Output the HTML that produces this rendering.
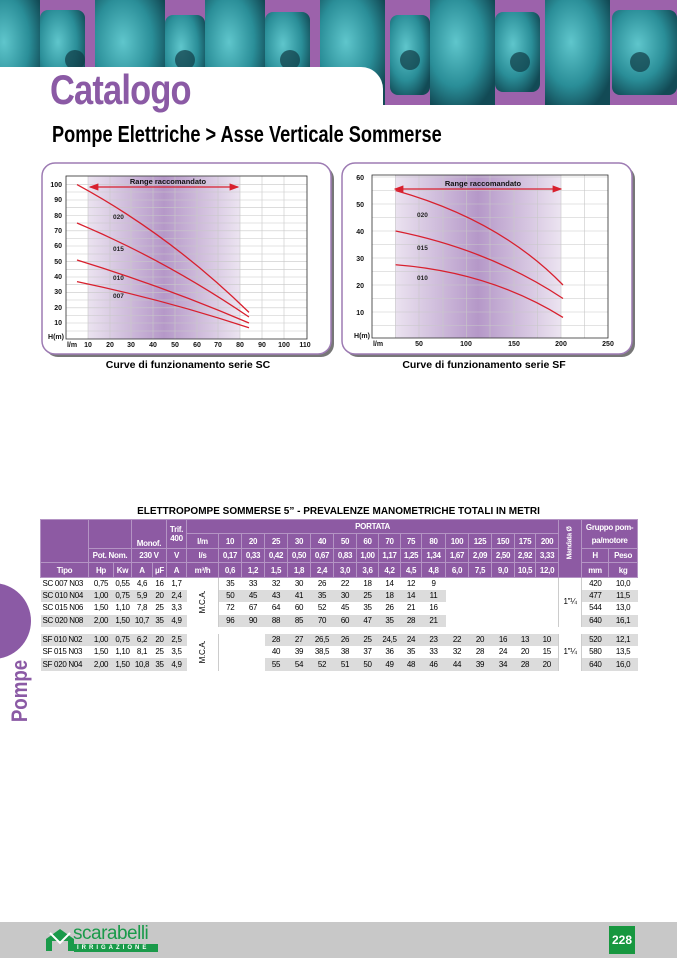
<!DOCTYPE html>
<html><head><meta charset="utf-8">
<style>
*{margin:0;padding:0;box-sizing:border-box}
body{width:677px;height:958px;position:relative;background:#fff;font-family:"Liberation Sans Narrow","Liberation Sans",sans-serif;overflow:hidden}
.abs{position:absolute}
#banner{left:0;top:0;width:677px;height:105px;background:#9c62ab;overflow:hidden}
table{border-collapse:collapse;table-layout:fixed;position:absolute;left:40px;top:519px;width:597px;font-size:8px;letter-spacing:-0.3px;text-align:center}
td{padding:0;white-space:nowrap;overflow:hidden}
thead td{background:#8d5aa3;color:#fff;font-weight:bold;border:1px solid #b494c4}
tbody td{height:12.3px;line-height:12px}
.g td.s{background:#dcdcdc}
.tl{text-align:left;padding-left:2px}
</style></head><body>
<div id="banner" class="abs">
<svg width="677" height="105" style="position:absolute;left:0;top:0">
<defs><radialGradient id="tq" cx="40%" cy="40%" r="70%"><stop offset="0" stop-color="#5fc6cc"/><stop offset="0.6" stop-color="#2a8e98"/><stop offset="1" stop-color="#124a55"/></radialGradient></defs>
<g fill="url(#tq)">
<rect x="-20" y="0" width="60" height="105"/>
<rect x="40" y="10" width="45" height="80" rx="8"/>
<rect x="95" y="0" width="70" height="105"/>
<rect x="165" y="15" width="40" height="80" rx="8"/>
<rect x="205" y="0" width="60" height="105"/>
<rect x="265" y="12" width="45" height="80" rx="8"/>
<rect x="320" y="0" width="65" height="105"/>
<rect x="390" y="15" width="40" height="80" rx="8"/>
<rect x="430" y="0" width="65" height="105"/>
<rect x="495" y="12" width="45" height="80" rx="8"/>
<rect x="545" y="0" width="65" height="105"/>
<rect x="612" y="10" width="65" height="85" rx="8"/>
</g>
<g fill="#0f3b45" opacity="0.7">
<circle cx="75" cy="60" r="10"/><circle cx="185" cy="60" r="10"/><circle cx="290" cy="60" r="10"/><circle cx="410" cy="60" r="10"/><circle cx="520" cy="62" r="10"/><circle cx="640" cy="62" r="10"/>
</g>
</svg>
</div>
<div class="abs" style="left:0;top:67px;width:383px;height:45px;background:#fff;border-top-right-radius:22px"></div>
<div class="abs" style="left:50px;top:66px;font-size:42px;font-weight:bold;color:#8b5aa5;letter-spacing:-1px;transform:scaleX(0.82);transform-origin:0 0;white-space:nowrap">Catalogo</div>
<div class="abs" style="left:52px;top:121px;font-size:23px;font-weight:bold;color:#000;transform:scaleX(0.79);transform-origin:0 0;white-space:nowrap">Pompe Elettriche &gt; Asse Verticale Sommerse</div>

<svg class="abs" style="left:0;top:0" width="677" height="400" font-family="Liberation Sans Narrow, Liberation Sans, sans-serif">
<defs>
<linearGradient id="band" x1="0" x2="1" y1="0" y2="0"><stop offset="0" stop-color="#ebe3f0"/><stop offset="0.5" stop-color="#b598c8"/><stop offset="1" stop-color="#ece4f1"/></linearGradient>
<marker id="ah" markerWidth="8" markerHeight="6" refX="7" refY="3" orient="auto-start-reverse"><path d="M0,0L8,3L0,6z" fill="#d8202e"/></marker>
</defs>
<rect x="45" y="166" width="289" height="191" rx="13" fill="#777"/>
<rect x="42" y="163" width="289" height="191" rx="13" fill="#fff" stroke="#9d7bb3" stroke-width="1.5"/>
<rect x="88" y="176" width="152" height="163" fill="url(#band)"/>
<g stroke="#c8c8c8" stroke-width="0.6">
<path d="M66,176V339M88,176V339M110,176V339M131,176V339M153,176V339M175,176V339M197,176V339M218,176V339M240,176V339M262,176V339M284,176V339M307,176V339"/>
<path d="M66,176H307M66,184.6H307M66,192H307M66,200H307M66,207.7H307M66,215.5H307M66,223H307M66,230.8H307M66,238.5H307M66,246H307M66,254H307M66,261.6H307M66,269.3H307M66,277H307M66,284.7H307M66,292.4H307M66,300H307M66,307.8H307M66,315.5H307M66,323H307M66,331H307"/>
</g>
<rect x="66" y="176" width="241" height="163" fill="none" stroke="#333" stroke-width="0.8"/>
<g font-size="7" font-weight="bold" fill="#111" text-anchor="end">
<text x="62" y="187">100</text><text x="62" y="202">90</text><text x="62" y="218">80</text><text x="62" y="233">70</text><text x="62" y="248">60</text><text x="62" y="264">50</text><text x="62" y="279">40</text><text x="62" y="294">30</text><text x="62" y="310">20</text><text x="62" y="325">10</text><text x="64" y="339">H(m)</text>
</g>
<g font-size="7" font-weight="bold" fill="#111" text-anchor="middle">
<text x="72" y="347">l/m</text><text x="88" y="347">10</text><text x="110" y="347">20</text><text x="131" y="347">30</text><text x="153" y="347">40</text><text x="175" y="347">50</text><text x="197" y="347">60</text><text x="218" y="347">70</text><text x="240" y="347">80</text><text x="262" y="347">90</text><text x="284" y="347">100</text><text x="305" y="347">110</text>
<text x="168" y="184" font-size="7.5">Range raccomandato</text>
</g>
<line x1="90" y1="187" x2="238" y2="187" stroke="#d8202e" stroke-width="1.2" marker-start="url(#ah)" marker-end="url(#ah)"/>
<g stroke="#d8202e" stroke-width="1.3" fill="none">
<path d="M77,184.6Q170,235 249,312.4"/>
<path d="M77,223Q165,260 249,317"/>
<path d="M77,260Q165,287 249,323"/>
<path d="M77,281.6Q165,300 249,327.8"/>
</g>
<g font-size="6.5" font-weight="bold" fill="#222"><text x="113" y="219">020</text><text x="113" y="251">015</text><text x="113" y="280">010</text><text x="113" y="298">007</text></g>
<text x="188" y="368" font-size="10.5" font-weight="bold" text-anchor="middle" font-family="Liberation Sans, sans-serif">Curve di funzionamento serie SC</text>

<rect x="345" y="166" width="290" height="191" rx="13" fill="#777"/>
<rect x="342" y="163" width="290" height="191" rx="13" fill="#fff" stroke="#9d7bb3" stroke-width="1.5"/>
<rect x="395" y="175" width="166" height="163" fill="url(#band)"/>
<g stroke="#c8c8c8" stroke-width="0.6">
<path d="M372,175V338M395.6,175V338M419,175V338M443,175V338M466.5,175V338M490,175V338M514,175V338M537.5,175V338M561,175V338M584.6,175V338M608,175V338"/>
<path d="M372,177H608M372,190.5H608M372,204H608M372,217.5H608M372,231H608M372,244.5H608M372,258H608M372,271.5H608M372,285H608M372,298.5H608M372,312H608M372,325.5H608"/>
</g>
<rect x="372" y="175" width="236" height="163" fill="none" stroke="#333" stroke-width="0.8"/>
<g font-size="7" font-weight="bold" fill="#111" text-anchor="end">
<text x="364" y="180">60</text><text x="364" y="207">50</text><text x="364" y="234">40</text><text x="364" y="261">30</text><text x="364" y="288">20</text><text x="364" y="315">10</text><text x="370" y="338">H(m)</text>
</g>
<g font-size="7" font-weight="bold" fill="#111" text-anchor="middle">
<text x="378" y="346">l/m</text><text x="419" y="346">50</text><text x="466" y="346">100</text><text x="514" y="346">150</text><text x="561" y="346">200</text><text x="608" y="346">250</text>
<text x="483" y="186" font-size="7.5">Range raccomandato</text>
</g>
<line x1="395" y1="189" x2="561" y2="189" stroke="#d8202e" stroke-width="1.2" marker-start="url(#ah)" marker-end="url(#ah)"/>
<g stroke="#d8202e" stroke-width="1.3" fill="none">
<path d="M395.6,190.5Q500,220 563,285"/>
<path d="M395.6,231Q490,250 563,298.5"/>
<path d="M395.6,264.75Q490,272 563,317.4"/>
</g>
<g font-size="6.5" font-weight="bold" fill="#222"><text x="417" y="217">020</text><text x="417" y="250">015</text><text x="417" y="280">010</text></g>
<text x="484" y="368" font-size="10.5" font-weight="bold" text-anchor="middle" font-family="Liberation Sans, sans-serif">Curve di funzionamento serie SF</text>
</svg>

<div class="abs" style="left:0;top:506px;width:677px;text-align:center;font-family:'Liberation Sans',sans-serif;font-weight:bold;font-size:10px">ELETTROPOMPE SOMMERSE 5” - PREVALENZE MANOMETRICHE TOTALI IN METRI</div>

<table>
<colgroup>
<col style="width:48px"><col style="width:25px"><col style="width:18px"><col style="width:21px"><col style="width:14px"><col style="width:20px"><col style="width:32px">
<col style="width:23px"><col style="width:23px"><col style="width:23px"><col style="width:23px"><col style="width:23px"><col style="width:23px">
<col style="width:22px"><col style="width:22px"><col style="width:21px"><col style="width:24px"><col style="width:23px"><col style="width:23px"><col style="width:23px"><col style="width:21px"><col style="width:23px">
<col style="width:23px"><col style="width:27px"><col style="width:29px">
</colgroup>
<thead>
<tr style="height:14px"><td rowspan="3"></td><td rowspan="2" colspan="2"></td><td rowspan="2" colspan="2" style="vertical-align:bottom">Monof.</td><td rowspan="2">Trif.<br>400</td><td colspan="16">PORTATA</td><td rowspan="4"><div style="transform:rotate(-90deg);font-size:7px">Mandata Ø</div></td><td colspan="2" rowspan="2" style="line-height:13px">Gruppo pom-<br>pa/motore</td></tr>
<tr style="height:15px"><td>l/m</td><td>10</td><td>20</td><td>25</td><td>30</td><td>40</td><td>50</td><td>60</td><td>70</td><td>75</td><td>80</td><td>100</td><td>125</td><td>150</td><td>175</td><td>200</td></tr>
<tr style="height:14px"><td colspan="2">Pot. Nom.</td><td colspan="2">230 V</td><td>V</td><td>l/s</td><td>0,17</td><td>0,33</td><td>0,42</td><td>0,50</td><td>0,67</td><td>0,83</td><td>1,00</td><td>1,17</td><td>1,25</td><td>1,34</td><td>1,67</td><td>2,09</td><td>2,50</td><td>2,92</td><td>3,33</td><td>H</td><td>Peso</td></tr>
<tr style="height:15px"><td>Tipo</td><td>Hp</td><td>Kw</td><td>A</td><td>µF</td><td>A</td><td>m³/h</td><td>0,6</td><td>1,2</td><td>1,5</td><td>1,8</td><td>2,4</td><td>3,0</td><td>3,6</td><td>4,2</td><td>4,5</td><td>4,8</td><td>6,0</td><td>7,5</td><td>9,0</td><td>10,5</td><td>12,0</td><td>mm</td><td>kg</td></tr>
</thead>
<tbody>
<tr><td class="s tl">SC 007 N03</td><td class="s">0,75</td><td class="s">0,55</td><td class="s">4,6</td><td class="s">16</td><td class="s">1,7</td><td rowspan="4" style="border-right:1px solid #ccc"><div style="transform:rotate(-90deg)">M.C.A.</div></td><td class="s">35</td><td class="s">33</td><td class="s">32</td><td class="s">30</td><td class="s">26</td><td class="s">22</td><td class="s">18</td><td class="s">14</td><td class="s">12</td><td class="s">9</td><td colspan="5"></td><td rowspan="4" style="border-left:1px solid #ccc;border-right:1px solid #ccc">1"¼</td><td class="s">420</td><td class="s">10,0</td></tr>
<tr class="g"><td class="s tl">SC 010 N04</td><td class="s">1,00</td><td class="s">0,75</td><td class="s">5,9</td><td class="s">20</td><td class="s">2,4</td><td class="s">50</td><td class="s">45</td><td class="s">43</td><td class="s">41</td><td class="s">35</td><td class="s">30</td><td class="s">25</td><td class="s">18</td><td class="s">14</td><td class="s">11</td><td colspan="5"></td><td class="s">477</td><td class="s">11,5</td></tr>
<tr><td class="s tl">SC 015 N06</td><td class="s">1,50</td><td class="s">1,10</td><td class="s">7,8</td><td class="s">25</td><td class="s">3,3</td><td class="s">72</td><td class="s">67</td><td class="s">64</td><td class="s">60</td><td class="s">52</td><td class="s">45</td><td class="s">35</td><td class="s">26</td><td class="s">21</td><td class="s">16</td><td colspan="5"></td><td class="s">544</td><td class="s">13,0</td></tr>
<tr class="g"><td class="s tl">SC 020 N08</td><td class="s">2,00</td><td class="s">1,50</td><td class="s">10,7</td><td class="s">35</td><td class="s">4,9</td><td class="s">96</td><td class="s">90</td><td class="s">88</td><td class="s">85</td><td class="s">70</td><td class="s">60</td><td class="s">47</td><td class="s">35</td><td class="s">28</td><td class="s">21</td><td colspan="5"></td><td class="s">640</td><td class="s">16,1</td></tr>
<tr><td colspan="25" style="height:7px"></td></tr>
<tr class="g"><td class="s tl">SF 010 N02</td><td class="s">1,00</td><td class="s">0,75</td><td class="s">6,2</td><td class="s">20</td><td class="s">2,5</td><td rowspan="3" style="border-right:1px solid #ccc"><div style="transform:rotate(-90deg)">M.C.A.</div></td><td colspan="2"></td><td class="s">28</td><td class="s">27</td><td class="s">26,5</td><td class="s">26</td><td class="s">25</td><td class="s">24,5</td><td class="s">24</td><td class="s">23</td><td class="s">22</td><td class="s">20</td><td class="s">16</td><td class="s">13</td><td class="s">10</td><td rowspan="3" style="border-left:1px solid #ccc;border-right:1px solid #ccc">1"¼</td><td class="s">520</td><td class="s">12,1</td></tr>
<tr><td class="s tl">SF 015 N03</td><td class="s">1,50</td><td class="s">1,10</td><td class="s">8,1</td><td class="s">25</td><td class="s">3,5</td><td colspan="2"></td><td class="s">40</td><td class="s">39</td><td class="s">38,5</td><td class="s">38</td><td class="s">37</td><td class="s">36</td><td class="s">35</td><td class="s">33</td><td class="s">32</td><td class="s">28</td><td class="s">24</td><td class="s">20</td><td class="s">15</td><td class="s">580</td><td class="s">13,5</td></tr>
<tr class="g"><td class="s tl">SF 020 N04</td><td class="s">2,00</td><td class="s">1,50</td><td class="s">10,8</td><td class="s">35</td><td class="s">4,9</td><td colspan="2"></td><td class="s">55</td><td class="s">54</td><td class="s">52</td><td class="s">51</td><td class="s">50</td><td class="s">49</td><td class="s">48</td><td class="s">46</td><td class="s">44</td><td class="s">39</td><td class="s">34</td><td class="s">28</td><td class="s">20</td><td class="s">640</td><td class="s">16,0</td></tr>
</tbody>
</table>

<div class="abs" style="left:-45px;top:583px;width:76px;height:76px;border-radius:50%;background:#8b5aa5"></div>
<div class="abs" style="left:-20px;top:680px;width:80px;height:22px;transform:rotate(-90deg) scaleX(0.85);color:#8b5aa5;font-weight:bold;font-size:22px;line-height:22px;text-align:center">Pompe</div>

<div class="abs" style="left:0;top:922px;width:677px;height:36px;background:#c8c8c8"></div>
<svg class="abs" style="left:46px;top:927px" width="28" height="24"><path d="M0,24V12L14,2L28,12V24H22V14H6V24Z" fill="#1a9a4a"/><path d="M4,6L14,16L24,6" stroke="#fff" stroke-width="2" fill="none"/></svg>
<div class="abs" style="left:73px;top:923px;font-family:'Liberation Sans',sans-serif;font-size:19px;color:#1a9a4a;letter-spacing:-0.5px">scarabelli</div>
<div class="abs" style="left:74px;top:944px;width:84px;height:8px;background:#1a9a4a;color:#fff;font-size:6px;font-weight:bold;letter-spacing:3px;line-height:8px;padding-left:3px">IRRIGAZIONE</div>
<div class="abs" style="left:609px;top:926px;width:26px;height:28px;background:#17973f;color:#fff;font-weight:bold;font-size:12px;line-height:28px;text-align:center">228</div>
</body></html>
